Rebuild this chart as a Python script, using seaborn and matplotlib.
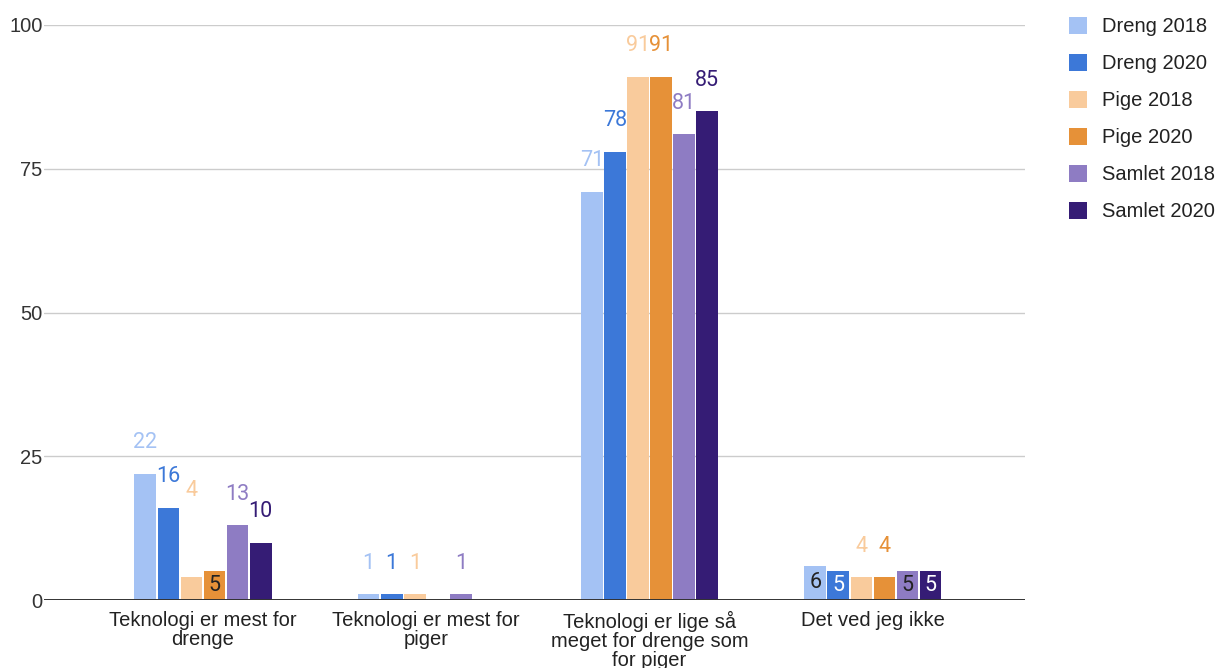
import matplotlib
matplotlib.use("Agg")
import matplotlib.pyplot as plt
import seaborn as sns
import pandas as pd

categories = [
    "Teknologi er mest for drenge",
    "Teknologi er mest for piger",
    "Teknologi er lige så meget for drenge som for piger",
    "Det ved jeg ikke",
]
tick_labels = [
    "Teknologi er mest for\ndrenge",
    "Teknologi er mest for\npiger",
    "Teknologi er lige så\nmeget for drenge som\nfor piger",
    "Det ved jeg ikke",
]
series = ["Dreng 2018", "Dreng 2020", "Pige 2018", "Pige 2020", "Samlet 2018", "Samlet 2020"]
dreng_2018 = [22, 1, 71, 6]
dreng_2020 = [16, 1, 78, 5]
pige_2018 = [4, 1, 91, 4]
pige_2020 = [5, 0, 91, 4]
samlet_2018 = [13, 1, 81, 5]
samlet_2020 = [10, 0, 85, 5]
values = [dreng_2018, dreng_2020, pige_2018, pige_2020, samlet_2018, samlet_2020]

colors = ["#a4c2f4", "#3c78d8", "#f9cb9c", "#e69138", "#8e7cc3", "#351c75"]
# text colour used when a label sits inside its bar
inside_text = ["#222222", "#ffffff", "#222222", "#222222", "#222222", "#ffffff"]
# (category index, series index) pairs whose labels are placed inside the bar
inside_labels = {(0, 3), (3, 0), (3, 1), (3, 4), (3, 5)}
# labels nudged to a different height (data units, text centre)
label_y_override = {(0, 2): 19.0}

rows = []
for s, vals in zip(series, values):
    for c, v in zip(categories, vals):
        rows.append({"Kategori": c, "Serie": s, "Procent": v})
df = pd.DataFrame(rows)

sns.set_theme(style="white")
plt.rcParams["font.family"] = ["Liberation Sans", "DejaVu Sans"]

W, H = 1225, 668
fig = plt.figure(figsize=(W / 100, H / 100), dpi=100)
left, right, top, bottom = 44, 1025, 25, 600
ax = fig.add_axes([left / W, 1 - bottom / H, (right - left) / W, (bottom - top) / H])

sns.barplot(
    data=df, x="Kategori", y="Procent", hue="Serie", order=categories,
    hue_order=series, palette=colors, width=0.62, gap=0.06,
    saturation=1, errorbar=None, ax=ax, zorder=3, linewidth=0,
)

ax.set_ylim(0, 100)
ax.set_xlim(-0.712, 3.681)
ax.set_yticks([0, 25, 50, 75, 100])
ax.set_yticklabels(["0", "25", "50", "75", "100"], fontsize=14.5, color="#333333")
ax.set_xticks(range(len(categories)))
ax.set_xticklabels(tick_labels, fontsize=14.5, color="#222222", linespacing=1.0)
ax.tick_params(axis="y", length=0, pad=1)
ax.tick_params(axis="x", length=0, pad=8)
ax.set_xlabel("")
ax.set_ylabel("")
for sp in ax.spines.values():
    sp.set_visible(False)
ax.yaxis.grid(True, color="#cccccc", linewidth=1, zorder=0)
ax.set_axisbelow(True)
ax.axhline(0, color="#333333", linewidth=1.4, zorder=4)

# value labels
px_per_unit = (bottom - top) / 100
above = 31 / px_per_unit
for si, cont in enumerate(ax.containers):
    for ci, bar in enumerate(cont.patches):
        v = values[si][ci]
        if v == 0:
            continue
        x = bar.get_x() + bar.get_width() / 2
        if (ci, si) in inside_labels:
            y = v / 2
            col = inside_text[si]
        else:
            y = label_y_override.get((ci, si), v + above)
            col = colors[si]
        ax.text(x, y, str(v), ha="center", va="center", fontsize=15.5,
                color=col, family=["Roboto", "DejaVu Sans"], zorder=5)

handles, labels = ax.get_legend_handles_labels()
ax.legend(
    handles, labels, loc="upper left",
    bbox_to_anchor=(1069 / W, 1 - 17 / H), bbox_transform=fig.transFigure,
    frameon=False, fontsize=14.5, handlelength=0.9, handleheight=0.9,
    handletextpad=0.75, labelspacing=0.88, borderpad=0, borderaxespad=0,
    labelcolor="#222222",
)

fig.savefig("out.png", dpi=100)
